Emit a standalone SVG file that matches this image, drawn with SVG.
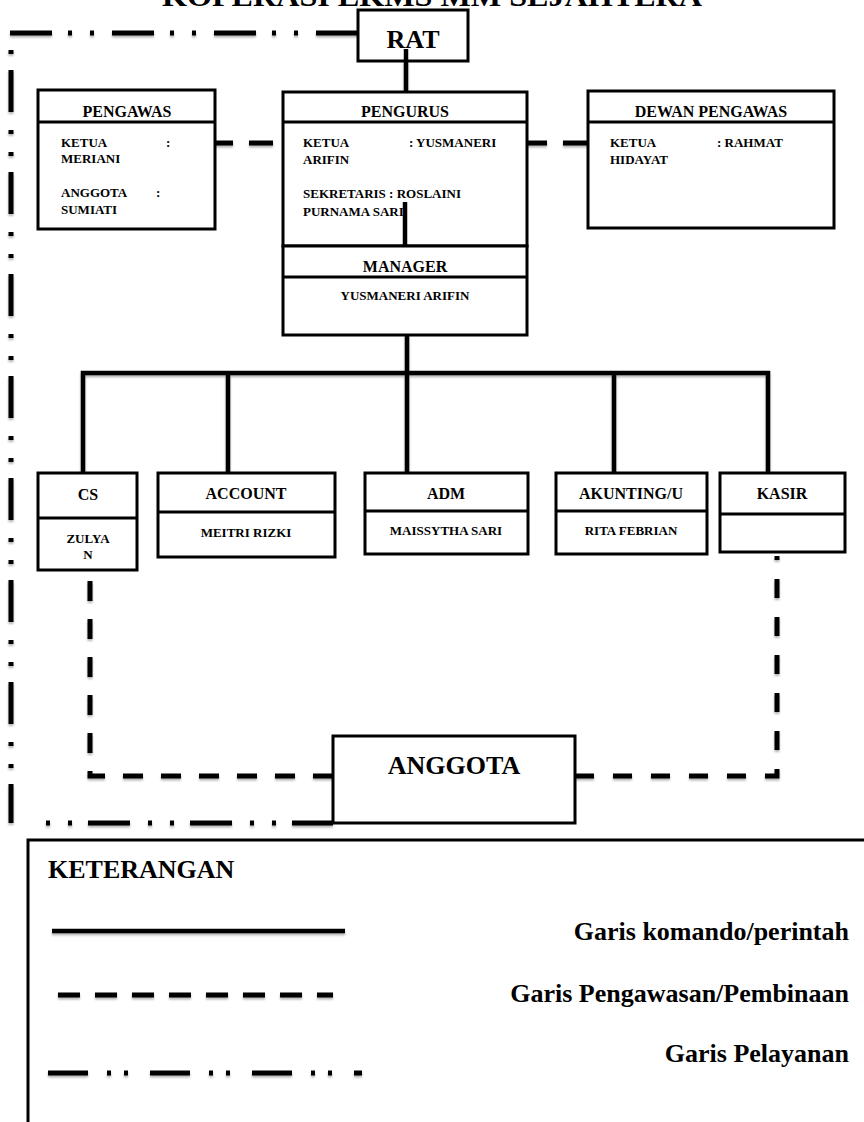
<svg xmlns="http://www.w3.org/2000/svg" width="864" height="1122" viewBox="0 0 864 1122">
<style>
.box{fill:#fff;stroke:#000;stroke-width:3}
.div{stroke:#000;stroke-width:3;fill:none}
.t{font-family:"Liberation Serif","Times New Roman",serif;font-weight:bold;fill:#000}
.h{font-size:16px;text-anchor:middle}
.b{font-size:13px}
.c{text-anchor:middle}
.big{font-size:26px}
.solid{stroke:#000;stroke-width:4.5;fill:none}
.dash{stroke:#000;stroke-width:5;fill:none}
.dd{stroke:#000;stroke-width:5;fill:none;stroke-dasharray:42 18 4 18 4 16}
</style>
<defs>
<filter id="sh" x="-5%" y="-5%" width="110%" height="110%">
<feDropShadow dx="0" dy="2" stdDeviation="1.2" flood-color="#000" flood-opacity="0.3"/>
</filter>
</defs>
<rect width="864" height="1122" fill="#fff"/>

<text class="t" x="162" y="6" font-size="30" textLength="540" lengthAdjust="spacingAndGlyphs">KOPERASI LKMS MM SEJAHTERA</text>

<g id="connectors" filter="url(#sh)">
<path class="dd" d="M358,33 H8"/>
<path class="dd" d="M11,32 V823" stroke-dashoffset="64"/>
<path class="dd" d="M30,823 H333" stroke-dashoffset="44"/>
<path class="dash" d="M215,143 H283" stroke-dasharray="18 16 24 10"/>
<path class="dash" d="M527,143 H588" stroke-dasharray="20 16 25"/>
<path class="dash" d="M90,576 V776 H333" stroke-dasharray="20 18" stroke-dashoffset="33"/>
<path class="dash" d="M575,776 H777 V556" stroke-dasharray="19 19"/>
<path class="solid" d="M406,61 V92"/>
<path class="solid" d="M407,335 V373"/>
<path class="solid" d="M83,475 V373 H768 V475"/>
<path class="solid" d="M228,373 V475"/>
<path class="solid" d="M407,373 V475"/>
<path class="solid" d="M614,373 V475"/>
</g>

<g id="rat">
<rect class="box" x="358" y="10" width="110" height="51"/>
<text class="t big c" x="413" y="48">RAT</text>
<path class="solid" d="M406,49 V61"/>
</g>

<g id="pengawas">
<rect class="box" x="38" y="90" width="177" height="139"/>
<line class="div" x1="38" y1="122" x2="215" y2="122"/>
<text class="t h" x="127" y="117">PENGAWAS</text>
<text class="t b" x="61" y="147">KETUA</text>
<text class="t b" x="166" y="147">:</text>
<text class="t b" x="61" y="163">MERIANI</text>
<text class="t b" x="61" y="197">ANGGOTA</text>
<text class="t b" x="156" y="197">:</text>
<text class="t b" x="61" y="214">SUMIATI</text>
</g>

<g id="pengurus">
<rect class="box" x="283" y="92" width="244" height="154"/>
<line class="div" x1="283" y1="122" x2="527" y2="122"/>
<text class="t h" x="405" y="117">PENGURUS</text>
<text class="t b" x="303" y="147">KETUA</text>
<text class="t b" x="409" y="147">: YUSMANERI</text>
<text class="t b" x="303" y="164">ARIFIN</text>
<text class="t b" x="303" y="198">SEKRETARIS : ROSLAINI</text>
<text class="t b" x="303" y="216">PURNAMA SARI</text>
<path class="solid" d="M405,202 V246"/>
</g>

<g id="manager">
<rect class="box" x="283" y="246" width="244" height="89"/>
<line class="div" x1="283" y1="277" x2="527" y2="277"/>
<text class="t h" x="405" y="272">MANAGER</text>
<text class="t b c" x="405" y="300">YUSMANERI ARIFIN</text>
</g>

<g id="dewan-pengawas">
<rect class="box" x="588" y="91" width="246" height="137"/>
<line class="div" x1="588" y1="122" x2="834" y2="122"/>
<text class="t h" x="711" y="117">DEWAN PENGAWAS</text>
<text class="t b" x="610" y="147">KETUA</text>
<text class="t b" x="717" y="147">: RAHMAT</text>
<text class="t b" x="610" y="164">HIDAYAT</text>
</g>

<g id="cs">
<rect class="box" x="38" y="473" width="99" height="97"/>
<line class="div" x1="38" y1="518" x2="137" y2="518"/>
<text class="t h" x="88" y="500">CS</text>
<text class="t b c" x="88" y="543">ZULYA</text>
<text class="t b c" x="88" y="559">N</text>
</g>

<g id="account">
<rect class="box" x="158" y="473" width="177" height="84"/>
<line class="div" x1="158" y1="512" x2="335" y2="512"/>
<text class="t h" x="246" y="499">ACCOUNT</text>
<text class="t b c" x="246" y="537">MEITRI RIZKI</text>
</g>

<g id="adm">
<rect class="box" x="365" y="473" width="163" height="81"/>
<line class="div" x1="365" y1="511" x2="528" y2="511"/>
<text class="t h" x="446" y="499">ADM</text>
<text class="t b c" x="446" y="535">MAISSYTHA SARI</text>
</g>

<g id="akunting">
<rect class="box" x="556" y="473" width="151" height="81"/>
<line class="div" x1="556" y1="511" x2="707" y2="511"/>
<text class="t h" x="631" y="499">AKUNTING/U</text>
<text class="t b c" x="631" y="535">RITA FEBRIAN</text>
</g>

<g id="kasir">
<rect class="box" x="720" y="473" width="125" height="79"/>
<line class="div" x1="720" y1="514" x2="845" y2="514"/>
<text class="t h" x="782" y="499">KASIR</text>
</g>

<g id="anggota">
<rect class="box" x="333" y="736" width="242" height="87"/>
<text class="t big c" x="454" y="774">ANGGOTA</text>
</g>

<g id="keterangan">
<path d="M864,840 H28 V1122" stroke="#000" stroke-width="3" fill="none"/>
<text class="t big" x="48" y="878">KETERANGAN</text>
<g filter="url(#sh)">
<line class="solid" x1="52" y1="931" x2="345" y2="931" stroke-width="5"/>
<line class="dash" x1="58" y1="995" x2="333" y2="995" stroke-dasharray="22 15"/>
<line class="dash" x1="48" y1="1073" x2="362" y2="1073" stroke-dasharray="40 19 4 13 4 22"/>
</g>
<text class="t big" x="849" y="940" text-anchor="end">Garis komando/perintah</text>
<text class="t big" x="849" y="1002" text-anchor="end">Garis Pengawasan/Pembinaan</text>
<text class="t big" x="849" y="1062" text-anchor="end">Garis Pelayanan</text>
</g>
</svg>
